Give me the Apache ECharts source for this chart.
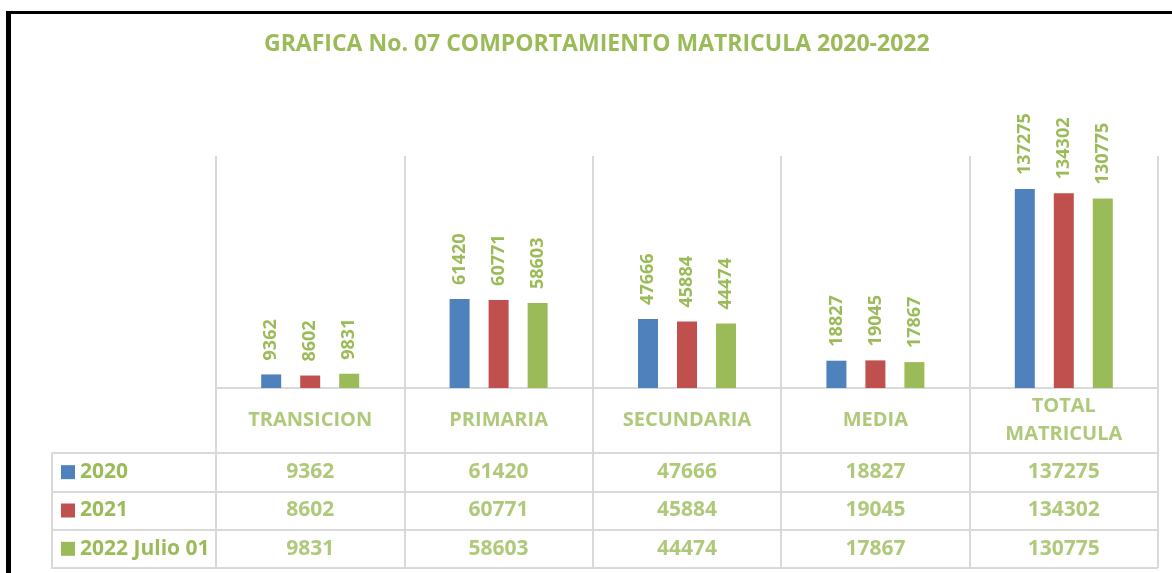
<!DOCTYPE html>
<html>
<head>
<meta charset="utf-8">
<style>
  html, body { margin: 0; padding: 0; background: #fff; }
  #chart { width: 1172px; height: 573px; }
</style>
<script src="https://cdn.jsdelivr.net/npm/echarts@6/dist/echarts.min.js"></script>
</head>
<body>
<div id="chart"></div>
<script>
const titleText = 'GRAFICA No. 07 COMPORTAMIENTO MATRICULA 2020-2022';
const categories = ['TRANSICION', 'PRIMARIA', 'SECUNDARIA', 'MEDIA', 'TOTAL\nMATRICULA'];
const seriesNames = ['2020', '2021', '2022 Julio 01'];
const values2020 = [9362, 61420, 47666, 18827, 137275];
const values2021 = [8602, 60771, 45884, 19045, 134302];
const values2022 = [9831, 58603, 44474, 17867, 130775];
const seriesValues = [values2020, values2021, values2022];
const colors = ['#4F81BD', '#C0504D', '#9BBB59'];

const GREEN = '#9BBB59';
const GRID = '#D9D9D9';
const FONT = '"Open Sans"';

const chart = echarts.init(document.getElementById('chart'), null, { renderer: 'canvas' });

const barSeries = seriesNames.map((name, k) => ({
  name: name,
  type: 'bar',
  xAxisIndex: 0,
  yAxisIndex: 0,
  data: seriesValues[k],
  barWidth: 20,
  barGap: '95%',
  itemStyle: { color: colors[k] },
  label: {
    show: true,
    position: 'top',
    rotate: 90,
    align: 'left',
    verticalAlign: 'middle',
    distance: 14,
    color: GREEN,
    fontFamily: FONT,
    fontWeight: 'bold',
    fontSize: 18
  },
  animation: false
}));

const headerSeries = {
  type: 'scatter',
  xAxisIndex: 1,
  yAxisIndex: 1,
  symbolSize: 0,
  data: categories.map(c => [c, 'h']),
  label: {
    show: true,
    position: 'inside',
    formatter: p => p.data[0],
    color: GREEN,
    fontFamily: FONT,
    fontWeight: 'bold',
    fontSize: 20,
    lineHeight: 28
  },
  silent: true,
  animation: false
};

const rowSeries = seriesNames.map((name, k) => ({
  name: 'tabla ' + name,
  type: 'scatter',
  xAxisIndex: 2,
  yAxisIndex: 2,
  symbolSize: 0,
  data: categories.map((c, i) => [c, name, seriesValues[k][i]]),
  label: {
    show: true,
    position: 'inside',
    formatter: p => String(p.data[2]),
    color: GREEN,
    fontFamily: FONT,
    fontWeight: 'bold',
    fontSize: 21
  },
  silent: true,
  animation: false
}));

const rich = { t: { color: GREEN, fontFamily: FONT, fontWeight: 'bold', fontSize: 21, padding: [0, 0, 0, 5] } };
seriesNames.forEach((n, k) => {
  rich['s' + k] = { width: 14, height: 14, backgroundColor: colors[k] };
});

const gridLine = { show: true, lineStyle: { color: GRID, width: 2 } };

const option = {
  backgroundColor: '#ffffff',
  animation: false,
  title: {
    text: titleText,
    left: 264,
    top: 33,
    padding: 0,
    textStyle: { color: GREEN, fontFamily: FONT, fontWeight: 'bold', fontSize: 23 }
  },
  graphic: [
    { type: 'rect', shape: { x: 6, y: 11, width: 5, height: 600 }, style: { fill: '#000' }, silent: true },
    { type: 'rect', shape: { x: 6, y: 11, width: 1200, height: 3 }, style: { fill: '#000' }, silent: true }
  ],
  grid: [
    { left: 216, right: 14, top: 156, bottom: 185 },
    { left: 216, right: 14, top: 388, height: 65 },
    { left: 216, right: 14, top: 453, bottom: 5 },
    { left: 52, width: 164, top: 453, bottom: 5 }
  ],
  xAxis: [
    { gridIndex: 0, type: 'category', data: categories, axisLine: gridLine, axisTick: { show: false }, axisLabel: { show: false }, splitLine: gridLine },
    { gridIndex: 1, type: 'category', data: categories, axisLine: { show: false }, axisTick: { show: false }, axisLabel: { show: false }, splitLine: gridLine },
    { gridIndex: 2, type: 'category', data: categories, axisLine: { show: false }, axisTick: { show: false }, axisLabel: { show: false }, splitLine: gridLine },
    { gridIndex: 3, type: 'value', show: false }
  ],
  yAxis: [
    { gridIndex: 0, type: 'value', min: 0, max: 160000, show: false },
    { gridIndex: 1, type: 'category', data: ['h'], show: false },
    { gridIndex: 2, type: 'category', data: seriesNames, inverse: true, axisLine: { show: false }, axisTick: { show: false }, axisLabel: { show: false }, splitLine: gridLine },
    {
      gridIndex: 3, type: 'category', data: seriesNames, inverse: true,
      axisLine: gridLine, axisTick: { show: false }, splitLine: gridLine,
      axisLabel: {
        inside: true,
        margin: 9,
        formatter: (v, idx) => '{s' + idx + '|}{t|' + v + '}',
        rich: rich
      }
    }
  ],
  series: [...barSeries, headerSeries, ...rowSeries]
};

chart.setOption(option);
</script>
</body>
</html>
